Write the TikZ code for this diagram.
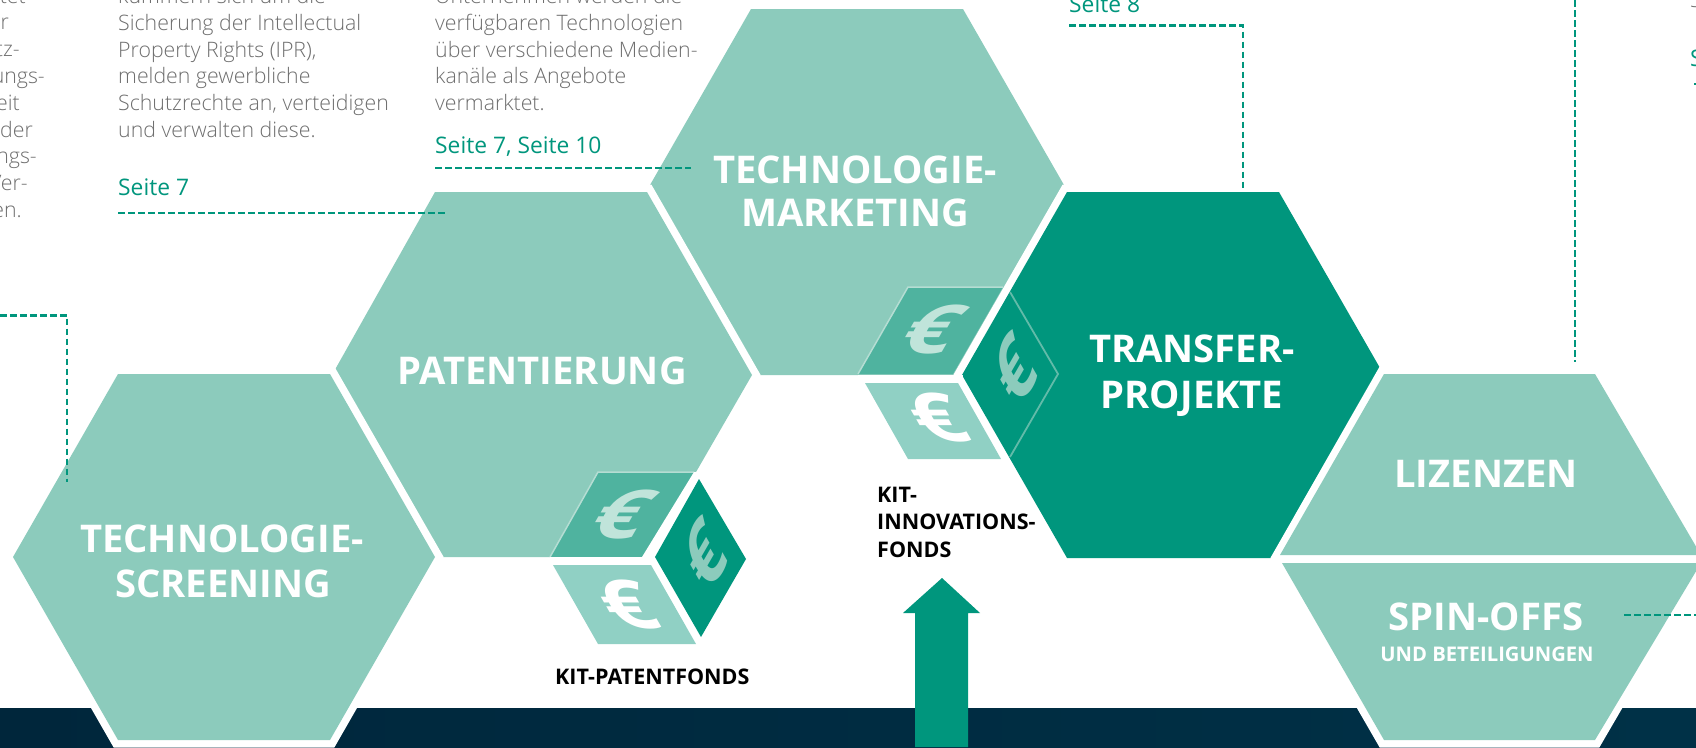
\documentclass[tikz,border=0pt]{standalone}
\usepackage{fontspec}
\setmainfont{Open Sans}
\newfontfamily\lightfont{Open Sans Light}
\definecolor{hexlight}{HTML}{8CCBBC}
\definecolor{hexdark}{HTML}{00967D}
\definecolor{facetop}{HTML}{4FB39F}
\definecolor{facebot}{HTML}{90D0C4}
\definecolor{faceline}{HTML}{B5DDD3}
\definecolor{eurotop}{HTML}{C0E4DA}
\definecolor{bodygray}{HTML}{6E6E6E}
\definecolor{bandleft}{HTML}{00263B}
\definecolor{bandright}{HTML}{003147}
\tikzset{
  hexlt/.style={preaction={draw=white,line width=15pt,line join=miter},fill=hexlight},
  hexdk/.style={preaction={draw=white,line width=15pt,line join=miter},fill=hexdark},
  bodytxt/.style={anchor=base west,inner sep=0pt,text=bodygray,font=\lightfont\fontsize{21.3}{24}\selectfont},
  bodyend/.style={bodytxt,anchor=base east},
  pagetxt/.style={anchor=base west,inner sep=0pt,text=hexdark,font=\fontsize{22.8}{26}\selectfont},
  hextitle/.style={anchor=base,inner sep=0pt,text=white,font=\bfseries\fontsize{38.2}{44}\selectfont},
  fundtxt/.style={anchor=base west,inner sep=0pt,text=black,font=\bfseries\fontsize{21.5}{25}\selectfont},
  leader/.style={draw=hexdark,line width=2.4pt,dash pattern=on 6.5pt off 3.5pt},
  euro/.style={inner sep=0pt,font=\bfseries\fontsize{78}{78}\selectfont},
}
\begin{document}
\begin{tikzpicture}[x=1pt,y=-1pt]
\clip (0,0) rectangle (1696,747);
\fill[white] (0,0) rectangle (1696,747);
% bottom band
\shade[left color=bandleft,right color=bandright] (0,708) rectangle (1696,747);
% arrow
\fill[hexdark] (942,578) -- (980,613) -- (968,613) -- (968,747) -- (915,747) -- (915,613) -- (903,613) -- cycle;
% hexagons
\path[hexlt] (646,192) -- (751,9) -- (963,9) -- (1068,192) -- (963,375) -- (751,375) -- cycle;
\path[hexdk] (962,375) -- (1067,192) -- (1279,192) -- (1384,375) -- (1279,558) -- (1067,558) -- cycle;
\path[hexlt] (332,375) -- (435,192) -- (647,192) -- (752,375) -- (647,557) -- (435,557) -- cycle;
\path[hexlt] (13,557) -- (118,374) -- (330,374) -- (435,557) -- (330,740) -- (118,740) -- cycle;
\draw[fill=white,draw=white,line width=15pt,line join=miter] (1279,558) -- (1384,374) -- (1595,374) -- (1701,558) -- (1595,740) -- (1384,740) -- cycle;
\fill[hexlight] (1384,374) -- (1595,374) -- (1701,555) -- (1280,555) -- cycle;
\fill[hexlight] (1282,563) -- (1701,563) -- (1595,740) -- (1384,740) -- cycle;
% cube 1
\fill[facetop] (598,472) -- (694,472) -- (646,557) -- (550,557) -- cycle;
\draw[faceline,line width=1.5pt] (550,557) -- (598,472) -- (694,472);
\fill[white] (550,557) rectangle (660,565);
\fill[facebot] (553,565) -- (651,565) -- (696,644) -- (598,644) -- cycle;
\fill[white] (694,472) -- (703,472) -- (651,565) -- (642,557) -- cycle;
\fill[hexdark] (699,479) -- (746,559) -- (701,637) -- (655,557) -- cycle;
\node[euro,text=eurotop,cm={1.15,0,.5,.866,(0,0)}] (e1) at (623,515) {€};
\node[euro,text=white,cm={1.1,0,-.5,.866,(0,0)}] (e2) at (627,605) {€};
\node[euro,text=hexlight,cm={.5,.866,-.5,.866,(0,0)}] (e3) at (705,555) {€};
% cube 2
\fill[facetop] (908,287) -- (1003,287) -- (953,374) -- (858,374) -- cycle;
\draw[faceline,line width=1.5pt] (858,374) -- (908,287) -- (1003,287);
\fill[white] (858,375) rectangle (963,383);
\fill[facebot] (865,383) -- (958,383) -- (1001,459) -- (908,459) -- cycle;
\draw[hexlight!70!hexdark,line width=1.8pt] (1010,292) -- (1058,374) -- (1010,457);
\node[euro,text=eurotop,cm={1.15,0,.5,.866,(0,0)}] (e4) at (933,330) {€};
\node[euro,text=white,cm={1.1,0,-.5,.866,(0,0)}] (e5) at (937,418) {€};
\node[euro,text=hexlight,cm={.5,.866,-.5,.866,(0,0)}] (e6) at (1015,370) {€};
% hexagon titles
\node[hextitle] (screen1) at (222,552) {TECHNOLOGIE-};
\node[hextitle] (screen2) at (223,597) {SCREENING};
\node[hextitle] (patent) at (542,384) {PATENTIERUNG};
\node[hextitle] (market1) at (855,183) {TECHNOLOGIE-};
\node[hextitle] (market2) at (855,226) {MARKETING};
\node[hextitle] (trans1) at (1192,362) {TRANSFER-};
\node[hextitle] (trans2) at (1192,408) {PROJEKTE};
\node[hextitle] (lizenz) at (1486,487) {LIZENZEN};
\node[hextitle] (spin) at (1486,630) {SPIN-OFFS};
\node[hextitle,font=\bfseries\fontsize{20.2}{24}\selectfont] (beteil) at (1487,661) {UND BETEILIGUNGEN};
% fund labels
\node[fundtxt] (pf) at (555,684) {KIT-PATENTFONDS};
\node[fundtxt] (if1) at (877,502) {KIT-};
\node[fundtxt] (if2) at (877,529) {INNOVATIONS-};
\node[fundtxt] (if3) at (877,557) {FONDS};
% left column (cut by the page edge)
\node[bodyend] (a1) at (26,3) {rtet};
\node[bodyend] (a2) at (9,29) {r};
\node[bodyend] (a3) at (20,56) {tz-};
\node[bodyend] (a4) at (45,83) {ungs-};
\node[bodyend] (a5) at (20,110) {eit};
\node[bodyend] (a6) at (33,137) {der};
\node[bodyend] (a7) at (37,163) {ngs-};
\node[bodyend] (a8) at (28,190) {Ver-};
\node[bodyend] (a9) at (22,217) {en.};
% second column
\node[bodytxt] (b1) at (118,3) {kümmern sich um die};
\node[bodytxt] (b2) at (118,30) {Sicherung der Intellectual};
\node[bodytxt] (b3) at (118,57) {Property Rights (IPR),};
\node[bodytxt] (b4) at (118,83) {melden gewerbliche};
\node[bodytxt] (b5) at (118,110) {Schutzrechte an, verteidigen};
\node[bodytxt] (b6) at (118,137) {und verwalten diese.};
\node[pagetxt] (b7) at (118,195) {Seite 7};
% third column
\node[bodytxt] (c1) at (435,3) {Unternehmen werden die};
\node[bodytxt] (c2) at (435,30) {verfügbaren Technologien};
\node[bodytxt] (c3) at (435,57) {über verschiedene Medien-};
\node[bodytxt] (c4) at (435,83) {kanäle als Angebote};
\node[bodytxt] (c5) at (435,110) {vermarktet.};
\node[pagetxt] (c6) at (435,153) {Seite 7, Seite 10};
% others
\node[pagetxt] (d1) at (1069,12) {Seite 8};
\node[bodytxt] (f1) at (1690,7) {S};
\node[pagetxt] (f2) at (1690,66) {S};
% leaders
\coordinate (l1a) at (118,213); \coordinate (l1b) at (445,213);
\coordinate (l2a) at (435,168); \coordinate (l2b) at (691,168);
\coordinate (l3a) at (1069,25.5); \coordinate (l3b) at (1243,25.5); \coordinate (l3c) at (1243,190);
\coordinate (l4a) at (0,315.5); \coordinate (l4b) at (67,315.5); \coordinate (l4c) at (67,482);
\coordinate (l5a) at (1575,0); \coordinate (l5b) at (1575,362);
\coordinate (l6a) at (1624,615); \coordinate (l6b) at (1696,615);
\coordinate (l7a) at (1694,84); \coordinate (l7b) at (1696,84);
\draw[leader] (l1a) -- (l1b);
\draw[leader] (l2a) -- (l2b);
\draw[leader] (l3a) -- (l3b) -- (l3c);
\draw[leader] (l4a) -- (l4b) -- (l4c);
\draw[leader] (l5a) -- (l5b);
\draw[leader] (l6a) -- (l6b);
\draw[leader] (l7a) -- (l7b);
\end{tikzpicture}
\end{document}
